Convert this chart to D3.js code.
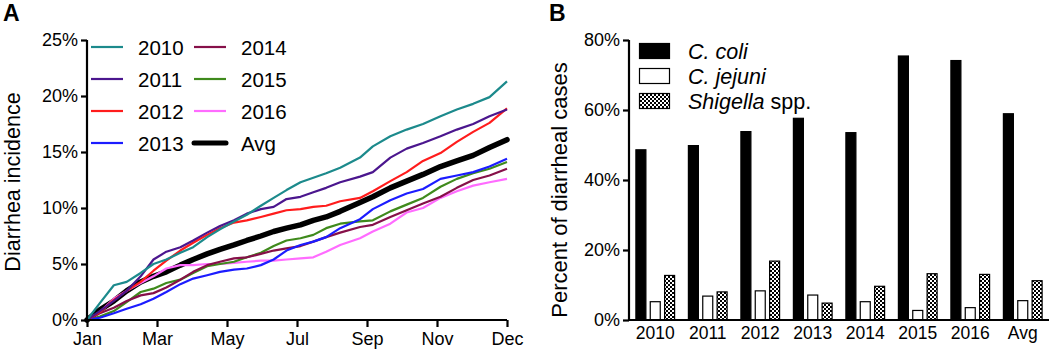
<!DOCTYPE html>
<html><head><meta charset="utf-8">
<script src="https://cdn.jsdelivr.net/npm/d3@7"></script>
<style>
html,body{margin:0;padding:0;background:#fff;}
svg{display:block;font-family:"Liberation Sans",Arial,Helvetica,sans-serif;}
</style></head>
<body>
<svg id="chart" width="1050" height="357"></svg>
<script>
// ---------- Panel A data ----------
const days = [0,11,23,34,46,57,68,80,91,103,114,126,137,149,160,171,183,194,205,217,234,245,260,274,288,303,317,331,345,360];
const inc2010 = [0,1.5,3.1,3.4,4.2,5.0,5.4,6.0,6.5,7.4,8.1,8.8,9.4,10.2,10.9,11.6,12.3,12.7,13.1,13.6,14.5,15.5,16.4,17.0,17.5,18.2,18.8,19.3,19.9,21.3];
const inc2011 = [0,0.8,1.7,2.6,3.9,5.4,6.1,6.5,7.1,7.8,8.4,8.9,9.5,9.9,10.1,10.8,11.0,11.4,11.8,12.3,12.8,13.2,14.5,15.3,15.8,16.4,17.0,17.5,18.2,18.8];
const inc2012 = [0,0.7,1.8,2.6,3.4,4.4,5.3,6.2,6.9,7.6,8.2,8.7,8.9,9.2,9.5,9.8,9.9,10.1,10.2,10.6,10.9,11.5,12.4,13.2,14.2,14.9,15.9,16.8,17.6,18.9];
const inc2013 = [0,0.2,0.6,1.0,1.4,1.9,2.5,3.2,3.7,4.0,4.3,4.5,4.6,4.9,5.4,6.2,6.7,7.0,7.4,8.2,9.0,9.9,10.7,11.3,11.7,12.6,12.9,13.2,13.7,14.4];
const inc2014 = [0,0.6,1.1,1.7,2.2,2.4,2.9,3.6,4.3,4.9,5.2,5.5,5.6,5.9,6.2,6.4,6.6,7.0,7.4,7.8,8.3,8.5,9.2,9.8,10.4,11.0,11.8,12.5,12.9,13.5];
const inc2015 = [0,0.3,0.8,1.6,2.5,2.8,3.3,3.6,4.2,4.8,5.0,5.2,5.6,6.0,6.6,7.1,7.3,7.6,8.2,8.6,8.8,8.9,9.7,10.3,10.9,11.9,12.6,13.1,13.5,14.1];
const inc2016 = [0,0.7,1.9,2.6,3.3,3.9,4.6,4.9,4.9,5.0,5.0,5.1,5.2,5.3,5.3,5.4,5.5,5.6,6.1,6.7,7.3,7.9,8.6,9.6,10.0,10.9,11.5,12.0,12.3,12.6];
const incAvg  = [0,0.9,1.7,2.6,3.4,3.9,4.3,4.9,5.4,5.9,6.3,6.7,7.1,7.5,7.9,8.2,8.5,8.9,9.2,9.7,10.5,11.0,11.8,12.4,13.0,13.7,14.2,14.7,15.4,16.1];
const seriesNamesA = ["2010","2011","2012","2013","2014","2015","2016","Avg"];
const monthTickDays = [0,60,120,180,240,300,360];
const monthTickLabels = ["Jan","Mar","May","Jul","Sep","Nov","Dec"];
const yTicksA = [0,5,10,15,20,25];

// ---------- Panel B data ----------
const categoriesB = ["2010","2011","2012","2013","2014","2015","2016","Avg"];
const cColi   = [48.8,50.0,54.0,57.8,53.7,75.6,74.3,59.1];
const cJejuni = [5.4,7.0,8.5,7.3,5.4,2.9,3.7,5.7];
const shigella= [12.9,8.2,17.0,5.0,9.8,13.4,13.2,11.4];
const seriesNamesB = ["C. coli","C. jejuni","Shigella spp."];
const yTicksB = [0,20,40,60,80];

const svg = d3.select("#chart");
const defs = svg.append("defs");
const pat = defs.append("pattern").attr("id","checker").attr("patternUnits","userSpaceOnUse")
  .attr("width",4).attr("height",4);
pat.append("rect").attr("width",4).attr("height",4).attr("fill","#fff");
pat.append("rect").attr("width",2).attr("height",2).attr("fill","#000");
pat.append("rect").attr("x",2).attr("y",2).attr("width",2).attr("height",2).attr("fill","#000");

// ================= Panel A =================
const colorsA = {"2010":"#1c8a8c","2011":"#4b168e","2012":"#ff1c1c","2013":"#1c1cff","2014":"#861049","2015":"#3f8a1c","2016":"#ff6cff","Avg":"#000"};
const dataA = {"2010":inc2010,"2011":inc2011,"2012":inc2012,"2013":inc2013,"2014":inc2014,"2015":inc2015,"2016":inc2016,"Avg":incAvg};

const xA = d3.scaleLinear().domain([0,360]).range([87,507]);
const yA = d3.scaleLinear().domain([0,25]).range([320,40]);

const gA = svg.append("g");
const line = d3.line().x((d,i)=>xA(days[i])).y(d=>yA(d));

gA.append("path").datum(incAvg).attr("d",line).attr("fill","none")
  .attr("stroke","#000").attr("stroke-width",5.5).attr("stroke-linejoin","round").attr("stroke-linecap","round");
["2010","2011","2012","2013","2014","2015","2016"].slice().reverse().forEach(k=>{
  gA.append("path").datum(dataA[k]).attr("d",line).attr("fill","none")
    .attr("stroke",colorsA[k]).attr("stroke-width",2.2).attr("stroke-linejoin","round");
});

const axAy = gA.append("g").attr("transform","translate(87,0)")
  .call(d3.axisLeft(yA).tickValues(yTicksA).tickFormat(d=>d+"%").tickSize(6).tickPadding(3));
const axAx = gA.append("g").attr("transform","translate(0,320)")
  .call(d3.axisBottom(xA).tickValues(monthTickDays).tickFormat((d,i)=>monthTickLabels[i]).tickSize(7).tickPadding(5));
[axAy,axAx].forEach(ax=>{
  ax.select(".domain").attr("stroke","#000").attr("stroke-width",2.2);
  ax.selectAll(".tick line").attr("stroke","#000").attr("stroke-width",2.2);
  ax.selectAll("text").attr("fill","#000").style("font-size","18px");
});
axAy.select(".domain").attr("d","M-0,320V40");
axAx.select(".domain").attr("d","M87,0H507");

gA.append("text").attr("transform","translate(20,182) rotate(-90)").attr("text-anchor","middle")
  .style("font-size","21.5px").text("Diarrhea incidence");
gA.append("text").attr("x",3).attr("y",21).style("font-size","23px").style("font-weight","bold").text("A");

const legA = gA.append("g");
seriesNamesA.forEach((k,i)=>{
  const col = Math.floor(i/4), row = i%4;
  const lx = col===0 ? 91 : 194;
  const ly = 47 + row*32;
  legA.append("line").attr("x1",lx).attr("x2",lx+32).attr("y1",ly).attr("y2",ly)
    .attr("stroke",colorsA[k]).attr("stroke-width",k==="Avg"?5:2.2).attr("stroke-linecap",k==="Avg"?"round":"butt");
  legA.append("text").attr("x",lx+47).attr("y",ly+7.5).style("font-size","20.5px").text(k);
});

// ================= Panel B =================
const gB = svg.append("g");
const x0 = d3.scaleBand().domain(categoriesB).range([629,1049]).paddingInner(0.24).paddingOuter(0.12);
const x1 = d3.scaleBand().domain(seriesNamesB).range([0,x0.bandwidth()]).paddingInner(0.22);
const yB = d3.scaleLinear().domain([0,80]).range([320,40]);
const valsB = {"C. coli":cColi,"C. jejuni":cJejuni,"Shigella spp.":shigella};
const fillB = {"C. coli":"#000","C. jejuni":"#fff","Shigella spp.":"url(#checker)"};

categoriesB.forEach((c,i)=>{
  seriesNamesB.forEach(s=>{
    const v = valsB[s][i];
    gB.append("rect").attr("x",x0(c)+x1(s)+0.6).attr("y",yB(v)+0.6)
      .attr("width",x1.bandwidth()-1.2).attr("height",yB(0)-yB(v)-0.6)
      .attr("fill",fillB[s]).attr("stroke","#000").attr("stroke-width",1.2);
  });
});

const axBy = gB.append("g").attr("transform","translate(629,0)")
  .call(d3.axisLeft(yB).tickValues(yTicksB).tickFormat(d=>d+"%").tickSize(6).tickPadding(3));
const axBx = gB.append("g").attr("transform","translate(0,320)")
  .call(d3.axisBottom(x0).tickSize(0).tickPadding(7));
[axBy,axBx].forEach(ax=>{
  ax.select(".domain").attr("stroke","#000").attr("stroke-width",2.2);
  ax.selectAll(".tick line").attr("stroke","#000").attr("stroke-width",2.2);
  ax.selectAll("text").attr("fill","#000").style("font-size","18px");
});
axBx.selectAll("text").style("font-size","17.5px");
axBy.select(".domain").attr("d","M-0,320V40");
axBx.select(".domain").attr("d","M629,0H1049");

gB.append("text").attr("transform","translate(567,190) rotate(-90)").attr("text-anchor","middle")
  .style("font-size","22px").text("Percent of diarrheal cases");
gB.append("text").attr("x",549).attr("y",21).style("font-size","23px").style("font-weight","bold").text("B");

seriesNamesB.forEach((s,i)=>{
  const ly = 51 + i*25;
  gB.append("rect").attr("x",639.5).attr("y",ly-7.5).attr("width",30).attr("height",15)
    .attr("fill",fillB[s]).attr("stroke","#000").attr("stroke-width",1.2);
  const t = gB.append("text").attr("x",688).attr("y",ly+7.5).style("font-size","21.5px");
  if (s==="Shigella spp.") {
    t.append("tspan").style("font-style","italic").text("Shigella");
    t.append("tspan").text(" spp.");
  } else {
    t.append("tspan").style("font-style","italic").text(s);
  }
});
</script>
</body></html>
